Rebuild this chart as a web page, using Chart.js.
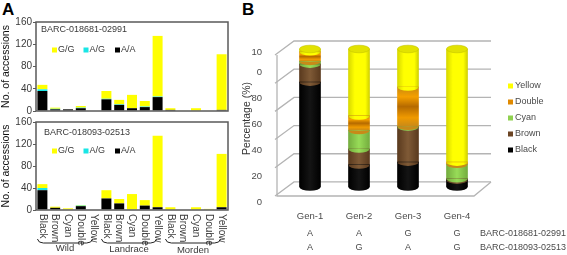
<!DOCTYPE html>
<html>
<head>
<meta charset="utf-8">
<script src="https://cdn.jsdelivr.net/npm/chart.js@4"></script>
<style>
  html, body { margin: 0; padding: 0; background: #fff; overflow: hidden; }
  canvas { position: absolute; }
  .panel { position: absolute; font: bold 17px "Liberation Sans", Arial, sans-serif; color: #000; line-height: 17px; }
</style>
</head>
<body>
<div class="panel" style="left:2px;top:1px">A</div>
<div class="panel" style="left:242px;top:1px">B</div>
<canvas id="chartTop" width="240" height="120" style="left:0;top:0"></canvas>
<canvas id="chartBottom" width="240" height="140" style="left:0;top:115px"></canvas>
<canvas id="chartGen" width="332" height="255" style="left:235px;top:0"></canvas>
<script>
// ── Panel A data ──
const colourLabels = ['Black', 'Brown', 'Cyan', 'Double', 'Yellow',
                      'Black', 'Brown', 'Cyan', 'Double', 'Yellow',
                      'Black', 'Brown', 'Cyan', 'Double', 'Yellow'];
const groupNames = ['Wild', 'Landrace', 'Morden'];
const groupFirst = [0, 5, 10];
const groupLast = [4, 9, 14];

const top_AA = [36, 3, 3, 5, 0, 21, 11, 5, 7, 25, 2, 0, 0, 0, 2];
const top_AG = [3, 1, 0, 1, 0, 1, 1, 0, 1, 1, 0, 0, 0, 0, 0];
const top_GG = [8, 2, 0, 3, 0, 14, 8, 24, 10, 109, 3, 1, 5, 1, 100];

const bottom_AA = [36, 4, 1, 7, 0, 21, 12, 0, 8, 5, 0, 0, 0, 0, 5];
const bottom_AG = [4, 0, 0, 1, 0, 0, 0, 1, 0, 0, 0, 0, 0, 1, 0];
const bottom_GG = [7, 2, 2, 1, 0, 15, 8, 28, 10, 130, 5, 0, 5, 1, 97];

const markerTop = 'BARC-018681-02991';
const markerBottom = 'BARC-018093-02513';

// ── Panel B data ──
const genLabels = ['Gen-1', 'Gen-2', 'Gen-3', 'Gen-4'];
const genBlack = [76, 16, 18, 5];
const genBrown = [13, 11.5, 25.5, 1];
const genCyan = [2, 13.5, 0.5, 10.5];
const genDouble = [7, 10.5, 28.5, 1.5];
const genYellow = [2, 48.5, 27.5, 82];
const genotypeTop = ['A', 'A', 'G', 'G'];
const genotypeBottom = ['A', 'G', 'A', 'G'];
const wallValues = [0, 20, 40, 60, 80, 100];
// the "100" label wraps in the original, so its two parts sit on separate ticks
const percentTicks = [0, 20, 40, 60, 80, 100, 115];
const percentLabels = ['0', '20', '40', '60', '80', '0', '10'];

const FONT = '"Liberation Sans", Arial, sans-serif';
Chart.defaults.font.family = FONT;
Chart.defaults.animation = false;
Chart.defaults.responsive = false;

// ── Panel A ──
const framePlugin = {
  id: 'frame',
  afterDraw(chart) {
    const { ctx, chartArea: a } = chart;
    ctx.save();
    ctx.strokeStyle = '#5a5a5a';
    ctx.lineWidth = 1.5;
    ctx.strokeRect(a.left, a.top, a.right - a.left, a.bottom - a.top);
    ctx.restore();
  },
};

const insetPlugin = {
  id: 'inset',
  afterDraw(chart, args, opts) {
    const { ctx, chartArea: a } = chart;
    ctx.save();
    ctx.fillStyle = '#3a3a3a';
    ctx.textBaseline = 'middle';
    ctx.font = '9px ' + FONT;
    ctx.fillText(opts.marker, a.left + opts.markerX, a.top + opts.markerY);
    // legend reads G/G, A/G, A/A: the reverse of the stack
    const items = chart.data.datasets.slice().reverse();
    items.forEach((ds, i) => {
      const x = a.left + 16 + i * 31.5;
      const y = a.top + opts.legendY;
      ctx.fillStyle = ds.backgroundColor;
      ctx.fillRect(x, y - 2.5, 5, 5);
      ctx.fillStyle = '#3a3a3a';
      ctx.fillText(ds.label, x + 6, y);
    });
    ctx.restore();
  },
};

// Chart.js anchors -90deg tick labels the wrong way round, so they are set here
const bracketPlugin = {
  id: 'brackets',
  afterDraw(chart) {
    const { ctx, scales: { x }, chartArea: a } = chart;
    ctx.save();
    ctx.fillStyle = '#3a3a3a';
    ctx.font = '10px ' + FONT;
    ctx.textBaseline = 'middle';
    colourLabels.forEach((label, i) => {
      ctx.save();
      ctx.translate(x.getPixelForValue(i), a.bottom + 4);
      ctx.rotate(Math.PI / 2);
      ctx.fillText(label, 0, 0);
      ctx.restore();
    });
    ctx.strokeStyle = '#222';
    ctx.lineWidth = 1;
    ctx.font = '9.5px ' + FONT;
    ctx.textAlign = 'center';
    groupNames.forEach((name, g) => {
      const x0 = x.getPixelForValue(groupFirst[g]) - 5;
      const x1 = x.getPixelForValue(groupLast[g]) - 1;
      const yTop = 124;
      const yBot = 128;
      ctx.beginPath();
      ctx.moveTo(x0, yTop);
      ctx.quadraticCurveTo(x0 + 1, yBot, x0 + 6, yBot);
      ctx.lineTo(x1 - 6, yBot);
      ctx.quadraticCurveTo(x1 - 1, yBot, x1, yTop);
      ctx.stroke();
      ctx.fillText(name, (x0 + x1) / 2, 133.5 + g);
    });
    ctx.restore();
  },
};

function accessionChart(id, aa, ag, gg, marker, inset, padding, showLabels) {
  return new Chart(document.getElementById(id), {
    type: 'bar',
    data: {
      labels: colourLabels,
      datasets: [
        { label: 'A/A', data: aa, backgroundColor: '#000000' },
        { label: 'A/G', data: ag, backgroundColor: '#19e6e6' },
        { label: 'G/G', data: gg, backgroundColor: '#ffff00' },
      ],
    },
    options: {
      layout: { padding },
      datasets: { bar: { barPercentage: 0.78, categoryPercentage: 1 } },
      scales: {
        x: {
          stacked: true,
          display: showLabels,
          grid: { display: false },
          border: { display: false },
          ticks: { display: false },
          afterFit(scale) { scale.height = showLabels ? 45 : 0; },
        },
        y: {
          stacked: true,
          min: 0,
          max: 160,
          grid: { drawOnChartArea: false, tickLength: 3, color: '#5a5a5a' },
          border: { display: false },
          ticks: { stepSize: 40, color: '#3a3a3a', font: { size: 10 }, padding: 1 },
          title: {
            display: true,
            text: 'No. of accessions',
            color: '#111',
            font: { size: 10.5 },
            padding: { top: 0, bottom: 0 },
          },
          afterFit(scale) { scale.width = 36; },
        },
      },
      plugins: {
        legend: { display: false },
        tooltip: { enabled: false },
        inset: { marker, ...inset },
      },
    },
    plugins: showLabels ? [framePlugin, insetPlugin, bracketPlugin] : [framePlugin, insetPlugin],
  });
}

accessionChart('chartTop', top_AA, top_AG, top_GG, markerTop,
  { markerX: 5, markerY: 8, legendY: 28 }, { left: 0, right: 12, top: 22, bottom: 9 }, false);
accessionChart('chartBottom', bottom_AA, bottom_AG, bottom_GG, markerBottom,
  { markerX: 8, markerY: 11, legendY: 29 }, { left: 0, right: 12, top: 5.3, bottom: 0 }, true);

// ── Panel B ──
const DEPTH_X = 17;
const DEPTH_Y = 14;
const WALL_SHIFT = 8.5;
const CYL_RX = 10.5;
const CYL_RY = 3.8;

// options get resolved once before layout, when the scales have no pixels yet
function gradientOr(ctx, fallback, x0, y0, x1, y1, stops) {
  if (![x0, y0, x1, y1].every(Number.isFinite)) return fallback;
  const g = ctx.createLinearGradient(x0, y0, x1, y1);
  stops.forEach(([p, col]) => g.addColorStop(p, col));
  return g;
}

// horizontal shading of the cylinder; Double gets vertical bands instead
function segmentFill(stops) {
  return (c) => {
    const px = c.chart.scales.x.getPixelForValue(c.dataIndex);
    return gradientOr(c.chart.ctx, stops[1][1], px - CYL_RX, 0, px + CYL_RX, 0, stops);
  };
}

const doubleBands = [[0, '#c98a10'], [0.25, '#f5a000'], [0.5, '#b56a00'], [0.78, '#f09a00'], [1, '#c88a18']];

function doubleFill(c) {
  const { scales: { y }, ctx } = c.chart;
  const i = c.dataIndex;
  const low = genBlack[i] + genBrown[i] + genCyan[i];
  return gradientOr(ctx, '#e08a00', 0, y.getPixelForValue(low + genDouble[i]), 0, y.getPixelForValue(low), doubleBands);
}

const wallPlugin = {
  id: 'wall',
  beforeDatasetsDraw(chart) {
    const { ctx, chartArea: a, scales: { x, yWall } } = chart;
    const backLeft = x.left + WALL_SHIFT;
    const backRight = x.right + WALL_SHIFT + 1;
    const frontLeft = backLeft - DEPTH_X;
    ctx.save();
    ctx.strokeStyle = '#b4b4b4';
    ctx.lineWidth = 1.3;
    wallValues.forEach((v) => {
      const py = yWall.getPixelForValue(v);
      ctx.beginPath();
      ctx.moveTo(frontLeft - 2, py + DEPTH_Y);
      ctx.lineTo(backLeft, py);
      ctx.lineTo(backRight, py);
      ctx.stroke();
    });
    const floorBack = yWall.getPixelForValue(0);
    ctx.beginPath();
    ctx.moveTo(frontLeft, yWall.getPixelForValue(100) + DEPTH_Y);
    ctx.lineTo(frontLeft, a.bottom);
    ctx.lineTo(backRight - DEPTH_X, a.bottom);
    ctx.lineTo(backRight, floorBack);
    ctx.stroke();
    ctx.restore();
  },
};

// rounds the flat bars into cylinders: lower lip of each segment, cap on the top one
const cylinderPlugin = {
  id: 'cylinder',
  afterDatasetsDraw(chart) {
    const { ctx } = chart;
    ctx.save();
    chart.data.datasets.forEach((ds, d) => {
      const meta = chart.getDatasetMeta(d);
      meta.data.forEach((bar, i) => {
        if (ds.data[i] <= 0) return;
        ctx.fillStyle = bar.options.backgroundColor;
        ctx.beginPath();
        ctx.ellipse(bar.x, bar.base, CYL_RX, CYL_RY, 0, 0, Math.PI);
        ctx.fill();
        if (d === chart.data.datasets.length - 1) {
          ctx.fillStyle = '#e2e200';
          ctx.strokeStyle = '#c4c400';
          ctx.lineWidth = 0.6;
          ctx.beginPath();
          ctx.ellipse(bar.x, bar.y, CYL_RX, CYL_RY, 0, 0, Math.PI * 2);
          ctx.fill();
          ctx.stroke();
        }
      });
    });
    ctx.restore();
  },
};

const genLegendPlugin = {
  id: 'genLegend',
  afterDraw(chart) {
    const { ctx, chartArea: a, scales: { x } } = chart;
    ctx.save();
    ctx.textBaseline = 'middle';
    ctx.font = '9px ' + FONT;
    const legendX = 273;
    chart.data.datasets.slice().reverse().forEach((ds, i) => {
      const y = 86 + i * 16;
      ctx.fillStyle = ds.swatch;
      ctx.fillRect(legendX, y - 2.5, 5, 5);
      ctx.fillStyle = '#4a4a4a';
      ctx.fillText(ds.label, legendX + 7, y);
    });
    // genotype rows under the category labels
    [[genotypeTop, markerTop, 38], [genotypeBottom, markerBottom, 52]].forEach(([row, name, dy]) => {
      ctx.fillStyle = '#4a4a4a';
      ctx.textAlign = 'center';
      row.forEach((g, i) => ctx.fillText(g, x.getPixelForValue(i), a.bottom + dy));
      ctx.textAlign = 'left';
      ctx.fillText(name, 245, a.bottom + dy);
    });
    ctx.restore();
  },
};

new Chart(document.getElementById('chartGen'), {
  type: 'bar',
  data: {
    labels: genLabels,
    datasets: [
      { label: 'Black', data: genBlack, swatch: '#000000',
        backgroundColor: segmentFill([[0, '#000000'], [0.5, '#141414'], [1, '#000000']]) },
      { label: 'Brown', data: genBrown, swatch: '#6b4423',
        backgroundColor: segmentFill([[0, '#5a3a1e'], [0.5, '#7f5a36'], [1, '#5a3a1e']]) },
      { label: 'Cyan', data: genCyan, swatch: '#8fd14f',
        backgroundColor: segmentFill([[0, '#74ad3e'], [0.5, '#98dc58'], [1, '#74ad3e']]) },
      { label: 'Double', data: genDouble, swatch: '#e08a00', backgroundColor: doubleFill },
      { label: 'Yellow', data: genYellow, swatch: '#ffff00',
        backgroundColor: segmentFill([[0, '#d8d800'], [0.3, '#ffff00'], [0.8, '#ffff00'], [1, '#d0d000']]) },
    ],
  },
  options: {
    layout: { padding: { left: 0, right: 85.5, top: 41, bottom: 0 } },
    datasets: { bar: { barThickness: 21 } },
    scales: {
      x: {
        stacked: true,
        grid: { display: false },
        border: { display: false },
        ticks: { color: '#4a4a4a', font: { size: 9.5 }, padding: 7 },
        afterFit(scale) { scale.height = 59; },
      },
      // cylinders sit a little in front of the wall, so they get their own scale
      y: { stacked: true, display: false, min: -6.5, max: 105.8 },
      yWall: { display: false, min: -10, max: 100 },
      yLabel: {
        position: 'left',
        min: 4.615,
        max: 123.85,
        grid: { display: false },
        border: { display: false },
        afterBuildTicks(scale) { scale.ticks = percentTicks.map(value => ({ value })); },
        ticks: {
          color: '#4a4a4a',
          font: { size: 9.5 },
          padding: 15.5,
          autoSkip: false,
          callback: (v, i) => percentLabels[i],
        },
        title: {
          display: true,
          text: 'Percentage (%)',
          color: '#333',
          font: { size: 10.5 },
          padding: { top: 6, bottom: 0 },
        },
        afterFit(scale) { scale.width = 50.5; },
      },
    },
    plugins: { legend: { display: false }, tooltip: { enabled: false } },
  },
  plugins: [wallPlugin, cylinderPlugin, genLegendPlugin],
});
</script>
</body>
</html>
